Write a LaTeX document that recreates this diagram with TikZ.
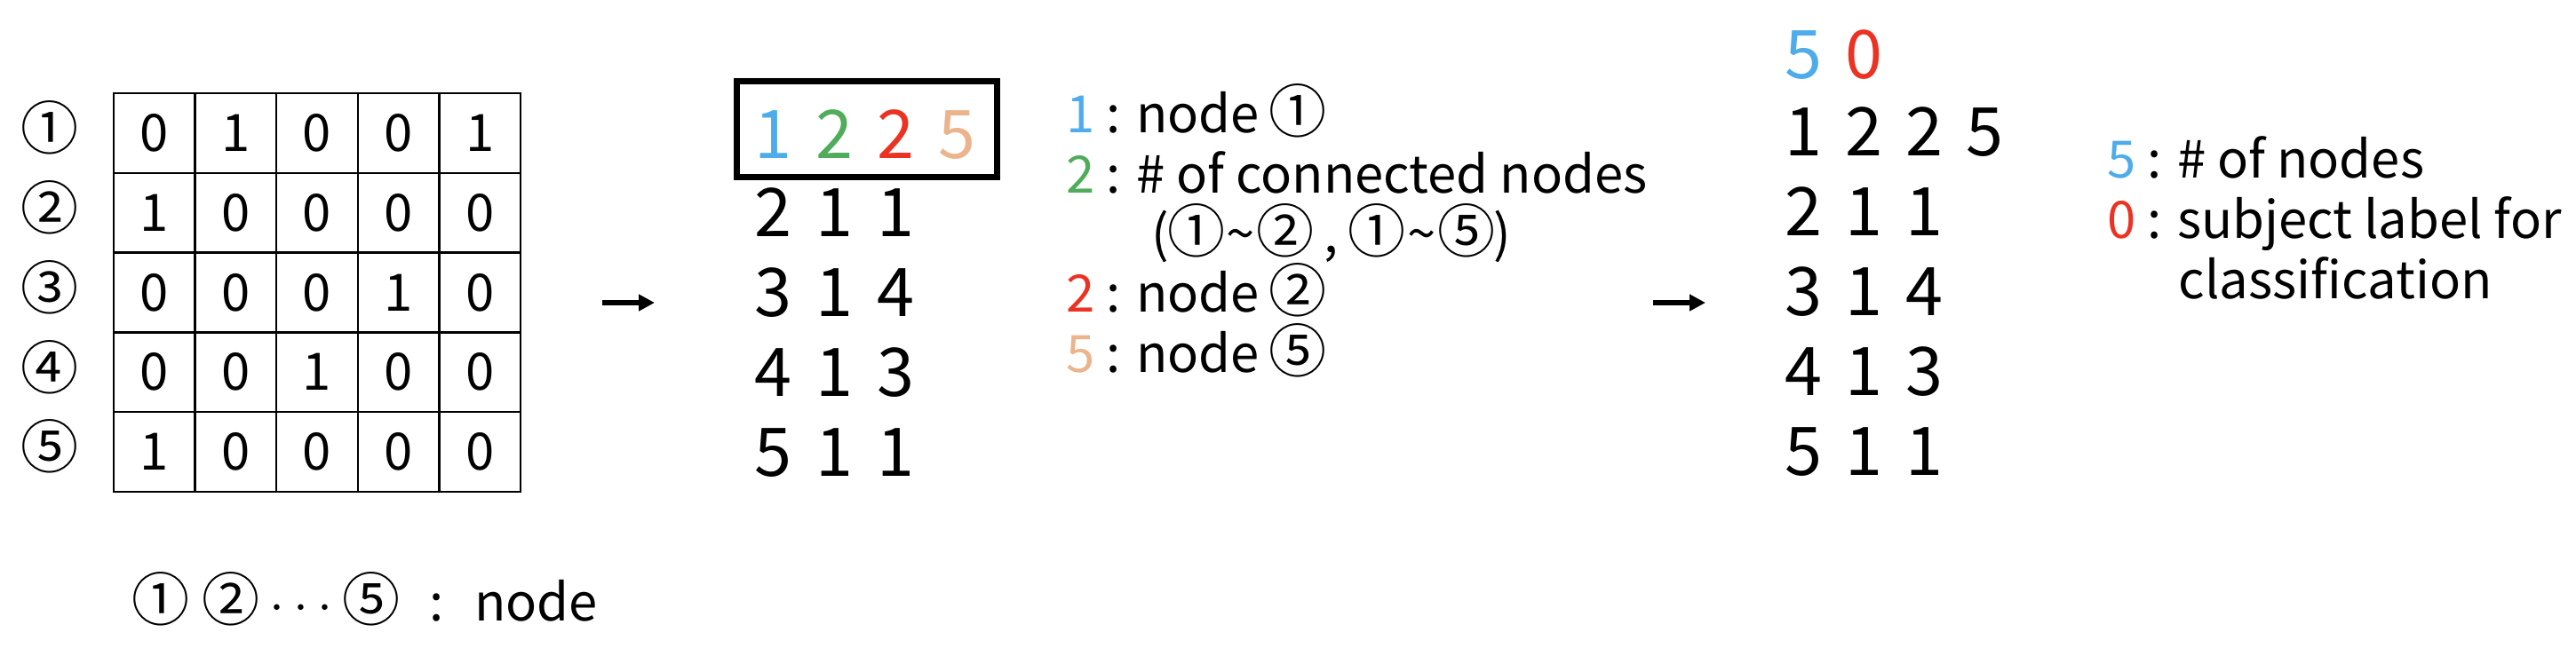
\documentclass[tikz,border=0pt]{standalone}
\usepackage{fontspec}
\setmainfont{Noto Sans CJK KR}
\usetikzlibrary{arrows.meta}
\definecolor{blau}{RGB}{79,172,234}
\definecolor{gruen}{RGB}{80,172,90}
\definecolor{rot}{RGB}{235,50,35}
\definecolor{sand}{RGB}{235,180,140}
% eingekreiste Ziffer, etwas groesser gesetzt
\newcommand{\kz}[1]{{\fontsize{18.5}{20}\selectfont\kern-0.03em#1\kern-0.03em}}
\newcommand{\wellen}{\kern1pt\textasciitilde\kern1pt}
\begin{document}
\begin{tikzpicture}[
    font=\fontsize{16.5}{20}\selectfont,
    zelle/.style={draw, line width=0.7pt, minimum width=0.916cm, minimum height=0.898cm, inner sep=0pt},
    kreis/.style={inner sep=0pt},
    ziffer/.style={anchor=base, inner sep=0pt, font=\fontsize{21.5}{26}\selectfont},
    legende/.style={anchor=base west, inner sep=0pt},
    pfeil/.style={-{Triangle[length=0.18cm, width=0.18cm]}, line width=1.7pt}
  ]
  \useasboundingbox (0,0) rectangle (29,7.38);
  % Adjazenzmatrix
  \foreach \zeile [count=\r] in {{0,1,0,0,1},{1,0,0,0,0},{0,0,0,1,0},{0,0,1,0,0},{1,0,0,0,0}}
    \foreach \v [count=\c] in \zeile
      \node[zelle] (m-\r-\c) at ({1.28+0.916*(\c-0.5)}, {6.33-0.898*(\r-0.5)}) {\v};
  \foreach \k [count=\r] in {①,②,③,④,⑤}
    \node[kreis] (k-\r) at (0.56, {6.39-0.898*(\r-0.5)}) {\kz{\k}};
  \node[anchor=west, inner sep=0pt] (zeichen) at (1.50,0.63)
    {\kz{①}\kern5pt\kz{②} $\cdots$ \kz{⑤}\hspace{0.6em}:\hspace{0.6em}node};
  \coordinate (p1a) at (6.78,3.97);
  \coordinate (p1b) at (7.37,3.97);
  \draw[pfeil] (p1a) -- (p1b);
  % Kantenliste
  \node[draw, line width=2pt, minimum width=2.93cm, minimum height=1.08cm] (kopf) at (9.76,5.925) {};
  \foreach \z/\f [count=\i] in {1/blau,2/gruen,2/rot,5/sand}
    \node[ziffer, text=\f] (a-1-\i) at ({8.70+0.69*(\i-1)},5.60) {\z};
  \foreach \zeile [count=\r from 2] in {{2,1,1},{3,1,4},{4,1,3},{5,1,1}}
    \foreach \z [count=\i] in \zeile
      \node[ziffer] (a-\r-\i) at ({8.70+0.69*(\i-1)}, {5.62-0.9*(\r-1)}) {\z};
  \node[legende] (e-1) at (12.00,5.89) {\textcolor{blau}{1} : node \kz{①}};
  \node[legende] (e-2) at (12.00,5.21) {\textcolor{gruen}{2} : \# of connected nodes};
  \node[legende] (e-2b) at (12.96,4.54) {(\kz{①}\wellen\kz{②} , \kz{①}\wellen\kz{⑤})};
  \node[legende] (e-3) at (12.00,3.87) {\textcolor{rot}{2} : node \kz{②}};
  \node[legende] (e-4) at (12.00,3.19) {\textcolor{sand}{5} : node \kz{⑤}};
  \coordinate (p2a) at (18.61,3.97);
  \coordinate (p2b) at (19.20,3.97);
  \draw[pfeil] (p2a) -- (p2b);
  % Eingabedatei
  \node[ziffer, text=blau] (b-0-1) at (20.30,6.50) {5};
  \node[ziffer, text=rot] (b-0-2) at (20.98,6.50) {0};
  \foreach \zeile [count=\r] in {{1,2,2,5},{2,1,1},{3,1,4},{4,1,3},{5,1,1}}
    \foreach \z [count=\i] in \zeile
      \node[ziffer] (b-\r-\i) at ({20.30+0.683*(\i-1)}, {5.63-0.9*(\r-1)}) {\z};
  \node[legende] (l-5) at (23.72,5.38) {\textcolor{blau}{5} : \# of nodes};
  \node[legende] (l-0) at (23.72,4.70) {\textcolor{rot}{0} : subject label for};
  \node[legende] (l-0b) at (24.52,4.02) {classification};
\end{tikzpicture}
\end{document}
